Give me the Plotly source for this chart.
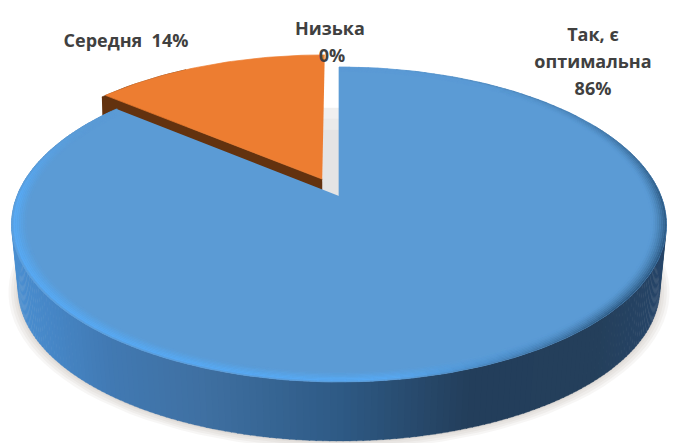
import math
import plotly.graph_objects as go

# Survey result: share of answers per category
categories = ["Так, є оптимальна", "Середня", "Низька"]
shares = [86, 14, 0]
label_lines = ["Так, є", "оптимальна", "86%", "Середня  14%", "Низька", "0%"]
label_x = [593, 593, 593, 126, 330, 332]
label_y = [36, 63, 90, 42, 30, 57]

# Projection of the tilted disc onto the page
CX, CY = 339.0, 196.0
BX, AY = 322.0, 152.3
TILT = 0.181
DEPTH = 67.0
DEPTH_K = 0.02
DEPTH_FLATTEN = 0.09
EXPLODE = 0.125
LABEL_COLOR = "#404040"


def proj(u, v, z=0.0):
    d = 1 + TILT * v + DEPTH_K * z
    return CX + BX * u / d, CY + (DEPTH * z - AY * (1 - DEPTH_FLATTEN * z) * v) / d


def polar(r, deg, off=(0.0, 0.0), z=0.0):
    a = math.radians(deg)
    return proj(off[0] + r * math.sin(a), off[1] + r * math.cos(a), z)


def hex_rgb(h):
    return tuple(int(h[i:i + 2], 16) for i in (1, 3, 5))


def mix(a, b, t):
    ca, cb = hex_rgb(a), hex_rgb(b)
    t = max(0.0, min(1.0, t))
    return "#%02x%02x%02x" % tuple(round(x + (y - x) * t) for x, y in zip(ca, cb))


def ramp(stops, x):
    if x <= stops[0][0]:
        return stops[0][1]
    for (x0, c0), (x1, c1) in zip(stops, stops[1:]):
        if x <= x1:
            return mix(c0, c1, (x - x0) / (x1 - x0))
    return stops[-1][1]


def clamp(t):
    return max(0.0, min(1.0, t))


fig = go.Figure()


def poly(points, color, opacity=1.0, edge=0.7):
    xs = [p[0] for p in points]
    ys = [p[1] for p in points]
    fig.add_trace(go.Scatter(
        x=xs, y=ys, mode="lines", fill="toself", fillcolor=color,
        line=dict(color=color, width=edge), opacity=opacity,
        hoverinfo="skip", showlegend=False,
    ))


def arange(a, b, step):
    n = max(1, int(abs(b - a) / step))
    return [a + (b - a) * i / n for i in range(n + 1)]


# Slice angles, clockwise from twelve o'clock
total = sum(shares)
blue_end = 360.0 * shares[0] / total
orange_end = blue_end + 360.0 * shares[1] / total
mid = math.radians((blue_end + orange_end) / 2)
orange_off = (EXPLODE * math.sin(mid), EXPLODE * math.cos(mid))

# Soft shadow under the body
for grow, dz in [(1.030, 1.03), (1.022, 1.025), (1.014, 1.02), (1.007, 1.01), (1.002, 1.005)]:
    poly([polar(grow, d, z=dz) for d in arange(60, 300, 3)], "#8c8378", opacity=0.07, edge=0)

# Faint shadow in the gap left by the pulled-out slice
apex = proj(0, 0)
oapex = proj(orange_off[0], orange_off[1])
gap_steps = 8
for i in range(gap_steps):
    y0 = apex[1] - 88 + 88 * i / gap_steps
    y1 = apex[1] - 88 + 88 * (i + 1) / gap_steps
    shade = mix("#f6f6f6", "#e4e4e4", min(1.0, (i + 1) / 3))
    poly([(oapex[0], y0), (apex[0], y0), (apex[0], y1), (oapex[0], y1)], shade, edge=0.5)

# Orange slice: cut wall, outer wall, top
BROWN = "#63320f"
edge_end = polar(1, blue_end, orange_off)
poly([oapex, edge_end, polar(1, blue_end, orange_off, 1), proj(orange_off[0], orange_off[1], 1)], BROWN)
poly([polar(1, d, orange_off) for d in arange(blue_end - 1, blue_end + 20, 2)]
     + [polar(1.012, d, orange_off, 1) for d in arange(blue_end + 20, blue_end - 1, 2)], BROWN)
poly([oapex] + [polar(1, d, orange_off) for d in arange(blue_end, orange_end, 1)], "#ed7d31")

# Blue slice: side wall shaded across the page
wall_stops = [(10, "#4b90d2"), (50, "#4686c6"), (110, "#4179b2"), (200, "#3f70a2"), (340, "#2e5a85"),
              (470, "#233e5b"), (600, "#243f5b"), (670, "#27466a")]
STEP = 1.0
for d0 in arange(60, blue_end, STEP)[:-1]:
    d1 = d0 + STEP * 1.2
    xm = polar(1, d0 + STEP / 2)[0]
    poly([polar(1, d0), polar(1, d1), polar(1, d1, z=1), polar(1, d0, z=1)], ramp(wall_stops, xm), edge=0.3)

# Blue slice: top
TOP = "#5b9bd5"
poly([apex] + [polar(1, d) for d in arange(0, blue_end, 1)], TOP)

# Bevel round the outer edge of the top, blended over several thin rings
RING_COUNT = 8
RING_IN = 0.955
for k in range(RING_COUNT):
    r0 = 1 - (1 - RING_IN) * k / RING_COUNT
    r1 = 1 - (1 - RING_IN) * (k + 1) / RING_COUNT
    t = (k + 0.5) / RING_COUNT
    lp = clamp(t / 0.2) if t < 0.2 else clamp((1 - t) / 0.8)
    dp = (1 - t) ** 1.5
    for d0 in arange(0, blue_end - 2, 2)[:-1]:
        dm = d0 + 1
        light = clamp((dm - 135) / 40) * clamp((300 - dm) / 30)
        dark = clamp((dm - 30) / 60) * clamp((172 - dm) / 40)
        thin = clamp((dm - 8) / 25) * clamp((100 - dm) / 40) * 0.55 * clamp(1 - t / 0.25)
        color = mix(TOP, "#58aaf5", light * lp)
        color = mix(color, "#2c5880", max(dark * dp, thin))
        poly([polar(r0, d0), polar(r0, d0 + 2.3), polar(r1, d0 + 2.3), polar(r1, d0)], color, edge=0.2)

# Slice labels
fig.add_trace(go.Scatter(
    x=label_x, y=label_y, mode="text", text=label_lines,
    textposition="middle center",
    textfont=dict(family="Open Sans", size=18, color=LABEL_COLOR, weight="bold"),
    hoverinfo="skip", showlegend=False,
))

fig.update_layout(
    width=685, height=443, margin=dict(l=0, r=0, t=0, b=0),
    paper_bgcolor="white", plot_bgcolor="white",
    xaxis=dict(range=[0, 685], visible=False, fixedrange=True),
    yaxis=dict(range=[443, 0], visible=False, fixedrange=True),
)
fig.write_html("out.html", config={"displayModeBar": False})
